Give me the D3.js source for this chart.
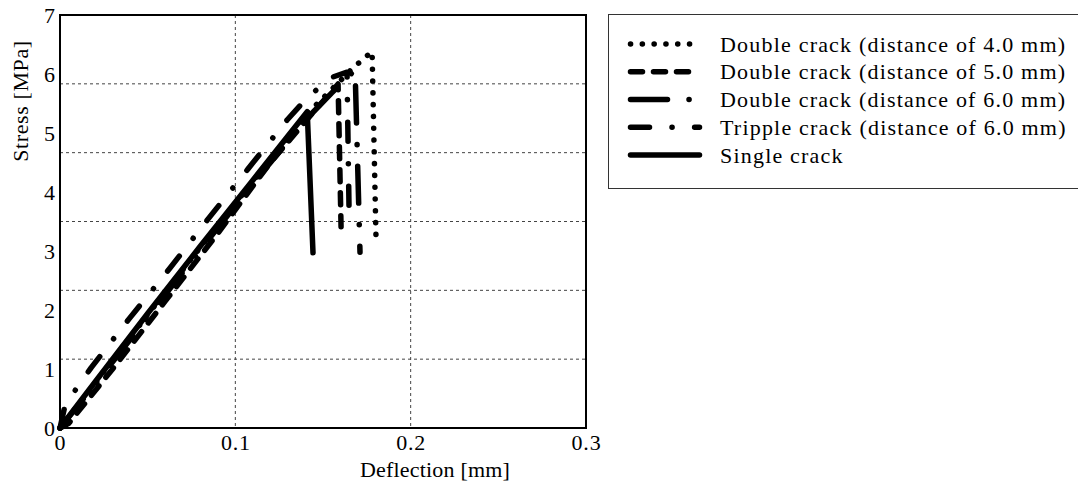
<!DOCTYPE html>
<html>
<head>
<meta charset="utf-8">
<script src="https://cdn.jsdelivr.net/npm/d3@7"></script>
<style>
  body { margin: 0; background: #fff; }
  svg text { font-family: "Liberation Serif", serif; fill: #000; }
  .grid line { stroke: #444; stroke-width: 1; stroke-dasharray: 3,3; }
  .curve { fill: none; stroke: #000; stroke-width: 5.5; stroke-linecap: round; stroke-linejoin: round; }
</style>
</head>
<body>
<div id="chart-area"></div>
<script>
// Stress vs deflection, five crack configurations

const xTicks = [0, 0.1, 0.2, 0.3]
const xTickLabels = ["0", "0.1", "0.2", "0.3"]
const yTicks = [0, 1, 2, 3, 4, 5, 6, 7]
const yGrid = [7/6, 14/6, 21/6, 28/6, 35/6]

// deflection [mm] / stress [MPa] per series
const dbl4Defl = [0, 0.02, 0.05, 0.08, 0.11, 0.14, 0.155, 0.167, 0.174, 0.178, 0.1802]
const dbl4Stress = [0, 0.76, 1.92, 3.06, 4.18, 5.3, 5.74, 6.1, 6.28, 6.38, 3.27]

const dbl5Defl = [0, 0.005, 0.03, 0.06, 0.09, 0.12, 0.145, 0.1586, 0.1603]
const dbl5Stress = [0, 0.08, 1.0, 2.15, 3.3, 4.5, 5.37, 5.83, 3.41]

const dbl6Defl = [0, 0.02, 0.05, 0.08, 0.11, 0.14, 0.155, 0.1683, 0.1711]
const dbl6Stress = [0, 0.74, 1.88, 3.02, 4.14, 5.22, 5.68, 6.07, 2.98]

const tripDefl = [0, 0.003, 0.0177, 0.0394, 0.0622, 0.0844, 0.1072, 0.1295, 0.142, 0.1557, 0.1637, 0.1649]
const tripStress = [0, 0.4, 1.02, 1.85, 2.69, 3.54, 4.39, 5.22, 5.63, 5.95, 6.03, 3.61]

const singleDefl = [0, 0.02, 0.05, 0.08, 0.11, 0.13, 0.141, 0.1443]
const singleStress = [0, 0.78, 1.94, 3.08, 4.2, 4.95, 5.36, 2.97]

const seriesNames = [
  "Double crack (distance of 4.0 mm)",
  "Double crack (distance of 5.0 mm)",
  "Double crack (distance of 6.0 mm)",
  "Tripple crack (distance of 6.0 mm)",
  "Single crack"
]

const series = [
  { name: seriesNames[0], defl: dbl4Defl, stress: dbl4Stress, dash: "0.1,11.7" },
  { name: seriesNames[1], defl: dbl5Defl, stress: dbl5Stress, dash: "12,11" },
  { name: seriesNames[2], defl: dbl6Defl, stress: dbl6Stress, dash: "37,21.5,0.1,21.5" },
  { name: seriesNames[3], defl: tripDefl, stress: tripStress, dash: "19,22.5,0.1,22.5" },
  { name: seriesNames[4], defl: singleDefl, stress: singleStress, dash: null }
]

const W = 1078, H = 486
const PLOT = { LEFT: 60, RIGHT: 586, TOP: 15, BOTTOM: 428 }
const FS = 22

const svg = d3.select("#chart-area").append("svg")
  .attr("width", W)
  .attr("height", H)

const x = d3.scaleLinear().domain([0, 0.3]).range([PLOT.LEFT, PLOT.RIGHT])
const y = d3.scaleLinear().domain([0, 7]).range([PLOT.BOTTOM, PLOT.TOP])

// grid
const grid = svg.append("g").attr("class", "grid")
grid.selectAll(".vg").data(xTicks.slice(1, -1)).enter().append("line")
  .attr("x1", d => x(d)).attr("x2", d => x(d))
  .attr("y1", PLOT.TOP).attr("y2", PLOT.BOTTOM)
grid.selectAll(".hg").data(yGrid).enter().append("line")
  .attr("x1", PLOT.LEFT).attr("x2", PLOT.RIGHT)
  .attr("y1", d => y(d)).attr("y2", d => y(d))

// curves
const line = d3.line()
  .x(d => x(d[0]))
  .y(d => y(d[1]))

svg.selectAll(".curve").data(series).enter().append("path")
  .attr("class", "curve")
  .attr("stroke-dasharray", d => d.dash)
  .attr("d", d => line(d3.zip(d.defl, d.stress)))

// frame
svg.append("rect")
  .attr("x", PLOT.LEFT).attr("y", PLOT.TOP)
  .attr("width", PLOT.RIGHT - PLOT.LEFT)
  .attr("height", PLOT.BOTTOM - PLOT.TOP)
  .attr("fill", "none")
  .attr("stroke", "#000")
  .attr("stroke-width", 2)

// axes (labels only)
const xAxisCall = d3.axisBottom(x)
  .tickValues(xTicks)
  .tickFormat((d, i) => xTickLabels[i])
  .tickSize(0)
  .tickPadding(6)
const xAxis = svg.append("g")
  .attr("transform", `translate(0, ${PLOT.BOTTOM})`)
  .call(xAxisCall)
xAxis.select(".domain").remove()
xAxis.selectAll("text").attr("font-size", FS).style("font-family", "Liberation Serif, serif")
  .style("letter-spacing", "0.8px")

const yAxisCall = d3.axisLeft(y)
  .tickValues(yTicks)
  .tickFormat(d3.format("d"))
  .tickSize(0)
  .tickPadding(5)
const yAxis = svg.append("g")
  .attr("transform", `translate(${PLOT.LEFT}, 0)`)
  .call(yAxisCall)
yAxis.select(".domain").remove()
yAxis.selectAll("text").attr("font-size", FS).style("font-family", "Liberation Serif, serif")

svg.append("text")
  .attr("x", 435).attr("y", 477)
  .attr("text-anchor", "middle")
  .attr("font-size", FS)
  .style("letter-spacing", "0.2px")
  .text("Deflection [mm]")

svg.append("text")
  .attr("transform", "translate(28, 101) rotate(-90)")
  .attr("text-anchor", "middle")
  .attr("font-size", FS)
  .style("letter-spacing", "0.6px")
  .text("Stress [MPa]")

// legend
const legend = svg.append("g")
legend.append("rect")
  .attr("x", 608.5).attr("y", 14.5)
  .attr("width", 480).attr("height", 174)
  .attr("fill", "#fff")
  .attr("stroke", "#333")
  .attr("stroke-width", 1)

const rowY = d3.scalePoint().domain(seriesNames).range([44, 155])

const item = legend.selectAll(".item").data(series).enter().append("g")
  .attr("transform", d => `translate(0, ${rowY(d.name)})`)
item.append("line")
  .attr("class", "curve")
  .attr("x1", 630.5).attr("x2", 699.5)
  .attr("stroke-dasharray", d => d.dash)
item.append("text")
  .attr("x", 720)
  .attr("dy", "0.35em")
  .attr("font-size", FS)
  .style("letter-spacing", "1.2px")
  .text(d => d.name)
</script>
</body>
</html>
